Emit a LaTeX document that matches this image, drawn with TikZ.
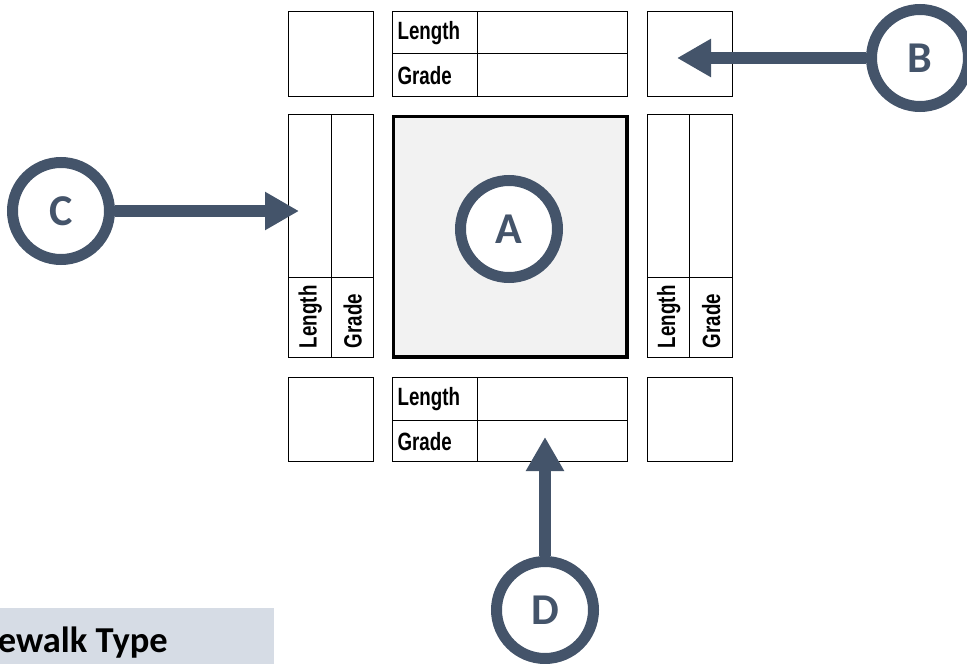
\documentclass[tikz,border=0pt]{standalone}
\usepackage{fontspec}
\setmainfont{Liberation Sans}
\newfontfamily\calibri{Carlito}
\usetikzlibrary{arrows.meta}
\definecolor{slate}{HTML}{44546A}
\definecolor{panel}{HTML}{D6DCE5}
\definecolor{roadgrey}{HTML}{F2F2F2}
\newcommand{\narrowtext}[1]{\scalebox{0.75}[1]{#1}}
\tikzset{
  cell/.style={draw, line width=1.2pt, inner sep=0pt, anchor=north west},
  labcell/.style={cell, text width=75pt, inner xsep=5pt, align=left,
    font=\fontsize{25}{25}\selectfont\bfseries},
  vlab/.style={rotate=90, anchor=west, inner sep=0pt,
    font=\fontsize{25}{25}\selectfont\bfseries},
  badge/.style={circle, draw=slate, fill=white, line width=11pt,
    minimum size=97pt, inner sep=0pt, text=slate,
    font=\calibri\fontsize{44}{44}\selectfont\bfseries},
  pointer/.style={slate, line width=12pt, -{Triangle[length=34pt,width=36pt]}}
}
\begin{document}
\begin{tikzpicture}[x=1pt,y=-1pt]
   \clip (0,0) rectangle (967,664);

   % top row
   \node[cell, minimum width=85, minimum height=85] (tl) at (288,11) {};
   \node[labcell, minimum height=42] (tlen) at (392,11) {\narrowtext{Length}};
   \node[cell, minimum width=150, minimum height=42] (tlenval) at (477,11) {};
   \node[labcell, minimum height=43] (tgrd) at (392,53) {\narrowtext{Grade}};
   \node[cell, minimum width=150, minimum height=43] (tgrdval) at (477,53) {};
   \node[cell, minimum width=85, minimum height=85] (tr) at (647,11) {};

   % middle row
   \node[cell, minimum width=43, minimum height=163] (llenval) at (288,114) {};
   \node[cell, minimum width=42, minimum height=163] (lgrdval) at (331,114) {};
   \node[cell, minimum width=43, minimum height=80] (llen) at (288,277) {};
   \node[cell, minimum width=42, minimum height=80] (lgrd) at (331,277) {};
   \node[vlab] (llentxt) at ([yshift=10pt]llen.south) {\narrowtext{Length}};
   \node[vlab] (lgrdtxt) at ([yshift=10pt]lgrd.south) {\narrowtext{Grade}};

   \node[draw, line width=3.5pt, fill=roadgrey, inner sep=0pt, anchor=north west,
         minimum width=233.5, minimum height=240.5] (road) at (391.75,114.75) {};

   \node[cell, minimum width=42, minimum height=163] (rlenval) at (647,114) {};
   \node[cell, minimum width=43, minimum height=163] (rgrdval) at (689,114) {};
   \node[cell, minimum width=42, minimum height=80] (rlen) at (647,277) {};
   \node[cell, minimum width=43, minimum height=80] (rgrd) at (689,277) {};
   \node[vlab] (rlentxt) at ([yshift=10pt]rlen.south) {\narrowtext{Length}};
   \node[vlab] (rgrdtxt) at ([yshift=10pt]rgrd.south) {\narrowtext{Grade}};

   % bottom row
   \node[cell, minimum width=85, minimum height=84] (bl) at (288,377) {};
   \node[labcell, minimum height=43] (blen) at (392,377) {\narrowtext{Length}};
   \node[cell, minimum width=150, minimum height=43] (blenval) at (477,377) {};
   \node[labcell, minimum height=41] (bgrd) at (392,420) {\narrowtext{Grade}};
   \node[cell, minimum width=150, minimum height=41] (bgrdval) at (477,420) {};
   \node[cell, minimum width=85, minimum height=84] (br) at (647,377) {};

   % callouts
   \node[badge] (A) at (509,229) {A};
   \node[badge] (B) at (920,58) {B};
   \node[badge] (C) at (61,211) {C};
   \node[badge] (D) at (545,610) {D};
   \coordinate (btip) at (677,58);
   \coordinate (ctip) at (299,211);
   \coordinate (dtip) at (545,437);
   \draw[pointer] (B) -- (btip);
   \draw[pointer] (C) -- (ctip);
   \draw[pointer] (D) -- (dtip);

   % legend strip
   \fill[panel] (0,608) rectangle (274,664);
   \node[anchor=base east, inner sep=0pt,
         font=\calibri\fontsize{36.5}{36.5}\selectfont\bfseries] (legend) at (168,652) {ewalk Type};
\end{tikzpicture}
\end{document}
